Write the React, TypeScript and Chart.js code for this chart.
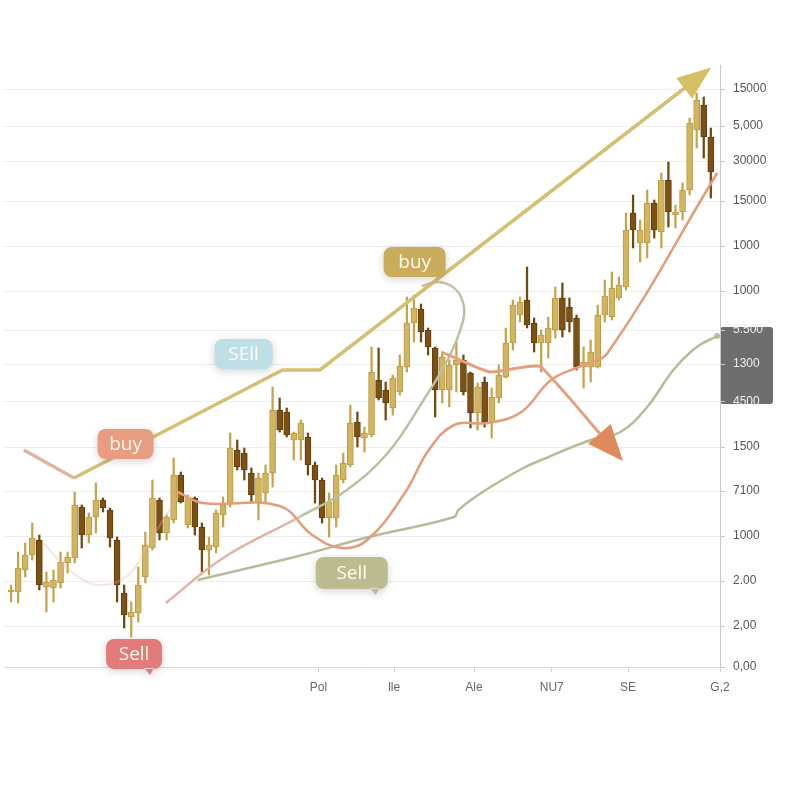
import React, { useEffect, useRef } from 'react';
import { Chart, registerables } from 'chart.js';
Chart.register(...registerables);

// ---- Candles (value units: height above the baseline) ----
const candleOpen = [75, 75, 97, 112, 127, 80, 79, 84, 104, 109, 160, 132, 150, 167, 157, 127, 74, 50, 54, 90, 119, 167, 134, 147, 192, 142, 169, 140, 117, 120, 152, 164, 217, 214, 194, 165, 174, 194, 257, 255, 227, 227, 230, 202, 187, 149, 149, 187, 202, 245, 229, 232, 287, 277, 259, 275, 300, 344, 358, 337, 319, 277, 277, 302, 307, 294, 254, 285, 245, 269, 290, 324, 352, 367, 344, 324, 324, 337, 369, 360, 349, 300, 300, 300, 352, 350, 369, 380, 454, 424, 424, 464, 435, 487, 452, 455, 477, 537, 562, 530];
const candleClose = [77, 99, 112, 129, 82, 85, 87, 105, 110, 162, 132, 150, 167, 159, 129, 82, 52, 55, 82, 122, 169, 134, 150, 192, 165, 170, 140, 117, 122, 154, 162, 219, 200, 197, 172, 189, 194, 257, 237, 232, 234, 244, 202, 187, 149, 165, 192, 204, 244, 230, 234, 295, 269, 264, 289, 301, 344, 359, 335, 320, 277, 310, 302, 307, 275, 254, 280, 244, 270, 292, 324, 362, 365, 342, 324, 332, 339, 369, 337, 345, 300, 305, 315, 352, 371, 379, 382, 437, 437, 437, 464, 437, 487, 455, 455, 477, 544, 567, 530, 495];
const candleHigh = [82, 115, 124, 144, 132, 95, 97, 115, 115, 175, 162, 154, 184, 169, 159, 130, 82, 65, 100, 135, 187, 169, 152, 209, 195, 172, 170, 144, 130, 157, 170, 234, 227, 219, 199, 194, 202, 280, 269, 259, 235, 247, 234, 205, 189, 174, 202, 214, 262, 255, 240, 320, 319, 285, 292, 312, 370, 372, 363, 339, 320, 315, 307, 325, 312, 295, 284, 290, 279, 302, 339, 367, 370, 400, 349, 337, 350, 380, 384, 369, 352, 320, 327, 362, 387, 395, 390, 454, 472, 447, 477, 467, 494, 505, 462, 484, 549, 574, 570, 539];
const candleLow = [65, 64, 90, 107, 77, 55, 65, 79, 94, 104, 119, 124, 134, 155, 120, 65, 39, 30, 45, 84, 117, 127, 127, 144, 164, 139, 132, 95, 92, 114, 140, 160, 197, 187, 165, 147, 164, 180, 235, 230, 207, 207, 192, 164, 144, 130, 140, 184, 200, 220, 215, 230, 267, 247, 252, 272, 295, 325, 325, 312, 250, 264, 260, 275, 272, 239, 237, 240, 229, 264, 289, 317, 345, 339, 315, 295, 309, 329, 330, 335, 297, 279, 285, 299, 345, 347, 367, 377, 419, 405, 409, 429, 419, 440, 439, 447, 472, 519, 509, 469];

// ---- Overlay lines (x in candle-index units, y in value units) ----
const trendX = [1.8, 8.9, 38.4, 43.7, 98.6];
const trendY = [217, 189, 297, 297, 597];

const maX = [23.6, 27.1, 38.0, 42.6, 46.8, 50.4, 55.7, 59.1, 62.7, 67.5, 72.2, 76.4, 81.0, 84.4, 99.9];
const maY = [175, 164, 161, 132, 119, 127, 174, 217, 242, 244, 255, 287, 302, 314, 494];

const sellLineX = [60.9, 65.1, 67.9, 72.6, 75.0, 86.2];
const sellLineY = [315, 302, 295, 300, 300, 209];

const loopX = [21.9, 30.0, 40.8, 47.5, 53.4, 58.1, 61.9, 63.7, 64.1, 63.0, 60.6, 58.1];
const loopY = [64, 109, 150, 177, 215, 264, 309, 340, 359, 377, 385, 381];

const lowerX = [26.4, 34.2, 41.2, 50.6, 62.7, 63.3, 66.5, 72.2, 75.0, 82.0, 86.2, 90.0, 93.7, 97.0, 99.9];
const lowerY = [87, 100, 112, 130, 150, 157, 174, 198, 207, 227, 235, 260, 297, 320, 331];

const faintX = [4.4, 8.6, 12.4, 16.6, 19.7, 24.1];
const faintY = [125, 95, 82, 92, 127, 175];

// ---- Badges ----
const badgeText = ['buy', 'SEll', 'buy', 'Sell', 'Sell'];
const badgeX = [57.1, 32.9, 16.2, 48.2, 17.4];
const badgeY = [405, 313, 223, 94, 13];
const badgeColor = ['#c9ad5c', '#bfdfe6', '#e89c80', '#bcbc90', '#e47b7b'];
const badgeTail = [false, false, false, true, true];

// ---- Axis ticks ----
const yTickValues = [0, 41, 86, 131, 176, 220, 265, 303, 337, 376, 421, 466, 506, 541, 578];
const yTickLabels = ['0,00', '2,00', '2.00', '1000', '7100', '1500', '4500', '1300', '5.500', '1000', '1000', '15000', '30000', '5,000', '15000'];
const yBadgeRange = [263, 340];

const xTickValues = [43.5, 54.2, 65.5, 76.5, 87.3, 100.3];
const xTickLabels = ['Pol', 'lle', 'Ale', 'NU7', 'SE', 'G,2'];

const BADGE_W = [62, 58, 56, 72, 56];
const BADGE_H = [30, 30, 30, 32, 30];

export default function App() {
  const ref = useRef<HTMLCanvasElement | null>(null);

  useEffect(() => {
    document.body.style.margin = '0';
    const canvas = ref.current;
    if (!canvas) return;

    const idx = candleOpen.map((_, i) => i);
    const up = idx.map((i) => candleClose[i] >= candleOpen[i]);
    const wickData = idx.map((i) => ({ x: i, y: [candleLow[i], candleHigh[i]] }));
    const bodyData = idx.map((i) => ({
      x: i,
      y: [Math.min(candleOpen[i], candleClose[i]), Math.max(candleOpen[i], candleClose[i])],
    }));
    const pts = (xs: number[], ys: number[]) => xs.map((x, i) => ({ x, y: ys[i] }));

    const boxPlugin = {
      id: 'boxPlugin',
      beforeDraw(chart: any) {
        const { ctx, chartArea, scales } = chart;
        const y = scales.y;
        const top = y.getPixelForValue(yBadgeRange[1]);
        const bot = y.getPixelForValue(yBadgeRange[0]);
        ctx.save();
        ctx.fillStyle = '#6e6e6e';
        ctx.beginPath();
        ctx.roundRect(chartArea.right, top, 53, bot - top, 3);
        ctx.fill();
        ctx.restore();
      },
    };

    const arrowPlugin = {
      id: 'arrowPlugin',
      afterDatasetsDraw(chart: any) {
        const ctx = chart.ctx;
        const draw = (dsIndex: number, color: string, len: number, half: number) => {
          const meta = chart.getDatasetMeta(dsIndex);
          const d = meta.data;
          const a = d[d.length - 2];
          const b = d[d.length - 1];
          const ang = Math.atan2(b.y - a.y, b.x - a.x);
          const bx = b.x - Math.cos(ang) * len;
          const by = b.y - Math.sin(ang) * len;
          const px = -Math.sin(ang) * half;
          const py = Math.cos(ang) * half;
          ctx.save();
          ctx.fillStyle = color;
          ctx.beginPath();
          ctx.moveTo(b.x + Math.cos(ang) * 4, b.y + Math.sin(ang) * 4);
          ctx.lineTo(bx + px, by + py);
          ctx.lineTo(bx - px, by - py);
          ctx.closePath();
          ctx.fill();
          ctx.restore();
        };
        draw(0, '#d6c067', 30, 13);
        draw(2, '#e08a5c', 32, 15);
      },
    };

    const badgePlugin = {
      id: 'badgePlugin',
      afterDatasetsDraw(chart: any) {
        const { ctx, scales } = chart;
        badgeText.forEach((t, i) => {
          const cx = scales.x.getPixelForValue(badgeX[i]);
          const cy = scales.y.getPixelForValue(badgeY[i]);
          const w = BADGE_W[i];
          const h = BADGE_H[i];
          ctx.save();
          ctx.shadowColor = 'rgba(0,0,0,0.18)';
          ctx.shadowBlur = 8;
          ctx.shadowOffsetY = 2;
          ctx.fillStyle = badgeColor[i];
          ctx.beginPath();
          ctx.roundRect(cx - w / 2, cy - h / 2, w, h, 8);
          if (badgeTail[i]) {
            ctx.moveTo(cx + w / 2 - 18, cy + h / 2 - 1);
            ctx.lineTo(cx + w / 2 - 12, cy + h / 2 + 6);
            ctx.lineTo(cx + w / 2 - 8, cy + h / 2 - 1);
          }
          ctx.fill();
          ctx.restore();
          ctx.save();
          ctx.fillStyle = '#fffaf0';
          ctx.font = '19px "Open Sans", "Liberation Sans", sans-serif';
          ctx.textAlign = 'center';
          ctx.textBaseline = 'middle';
          ctx.fillText(t, cx, cy + 1);
          ctx.restore();
        });
      },
    };

    const chart = new Chart(canvas, {
      type: 'bar',
      data: {
        datasets: [
          {
            type: 'line',
            data: pts(trendX, trendY),
            borderColor: '#d5bf72',
            borderWidth: 3.5,
            pointRadius: 0,
            tension: 0,
            segment: { borderColor: (c: any) => (c.p0DataIndex === 0 ? '#e2b49c' : '#d5bf72') },
          } as any,
          {
            type: 'line',
            data: pts(maX, maY),
            borderColor: '#e39d7b',
            borderWidth: 2.5,
            pointRadius: 0,
            tension: 0.4,
          } as any,
          {
            type: 'line',
            data: pts(sellLineX, sellLineY),
            borderColor: '#e3a07c',
            borderWidth: 3,
            pointRadius: 0,
            tension: 0.2,
          } as any,
          {
            type: 'line',
            data: pts(loopX, loopY),
            borderColor: '#bcc0a2',
            borderWidth: 2.5,
            pointRadius: 0,
            tension: 0.4,
            segment: {
              borderColor: (c: any) =>
                c.p0DataIndex < 2 ? '#e2b2a6' : c.p0DataIndex >= 9 ? '#d4b9ad' : '#bcc0a2',
            },
          } as any,
          {
            type: 'line',
            data: pts(lowerX, lowerY),
            borderColor: '#b8bb98',
            borderWidth: 2.5,
            tension: 0.4,
            pointRadius: (c: any) => (c.dataIndex === lowerX.length - 1 ? 3 : 0),
            pointBackgroundColor: '#b8bb98',
            pointBorderWidth: 0,
          } as any,
          {
            type: 'line',
            data: pts(faintX, faintY),
            borderColor: 'rgba(226,180,168,0.35)',
            borderWidth: 2,
            pointRadius: 0,
            tension: 0.4,
          } as any,
          {
            type: 'bar',
            data: bodyData as any,
            backgroundColor: up.map((u) => (u ? '#d3b45f' : '#7c5113')),
            borderColor: up.map((u) => (u ? '#b99a45' : '#5f3d0c')),
            borderWidth: 1,
            borderSkipped: false,
            barThickness: 6,
            minBarLength: 2,
            grouped: false,
          } as any,
          {
            type: 'bar',
            data: wickData as any,
            backgroundColor: up.map((u) => (u ? '#c4a34c' : '#6d4810')),
            borderWidth: 0,
            barThickness: 1.6,
            grouped: false,
          } as any,
        ],
      },
      options: {
        responsive: false,
        animation: false,
        devicePixelRatio: 1,
        layout: { padding: { top: 65, left: 0, right: 0, bottom: 0 } },
        plugins: { legend: { display: false }, tooltip: { enabled: false } },
        scales: {
          x: {
            type: 'linear',
            min: -1,
            max: 100.3,
            offset: false,
            afterFit: (s: any) => {
              s.height = 133;
            },
            afterBuildTicks: (s: any) => {
              s.ticks = xTickValues.map((v) => ({ value: v }));
            },
            grid: { drawOnChartArea: false, tickLength: 5, tickColor: '#cfcfcf', offset: false },
            border: { display: true, color: '#dcdcdc' },
            ticks: {
              autoSkip: false,
              maxRotation: 0,
              padding: 8,
              color: '#666',
              font: { family: '"Liberation Sans", Arial, sans-serif', size: 12 },
              callback: (_v: any, i: number) => xTickLabels[i],
            },
          },
          y: {
            type: 'linear',
            position: 'right',
            min: 0,
            max: 602,
            afterFit: (s: any) => {
              s.width = 80;
            },
            afterBuildTicks: (s: any) => {
              s.ticks = yTickValues.map((v) => ({ value: v }));
            },
            grid: { color: '#ededed', tickLength: 5, tickColor: '#c8c8c8' },
            border: { display: true, color: '#c8c8c8' },
            ticks: {
              autoSkip: false,
              padding: 8,
              color: (c: any) => (c.index >= 6 && c.index <= 8 ? '#eeeeee' : '#555'),
              font: { family: '"Liberation Sans", Arial, sans-serif', size: 12 },
              callback: (_v: any, i: number) => yTickLabels[i],
            },
          },
        },
      } as any,
      plugins: [boxPlugin, arrowPlugin, badgePlugin],
    });

    return () => chart.destroy();
  }, []);

  return (
    <div style={{ width: 800, height: 800, position: 'relative', background: '#fff' }}>
      <canvas ref={ref} width={800} height={800} style={{ width: 800, height: 800, display: 'block' }} />
    </div>
  );
}
